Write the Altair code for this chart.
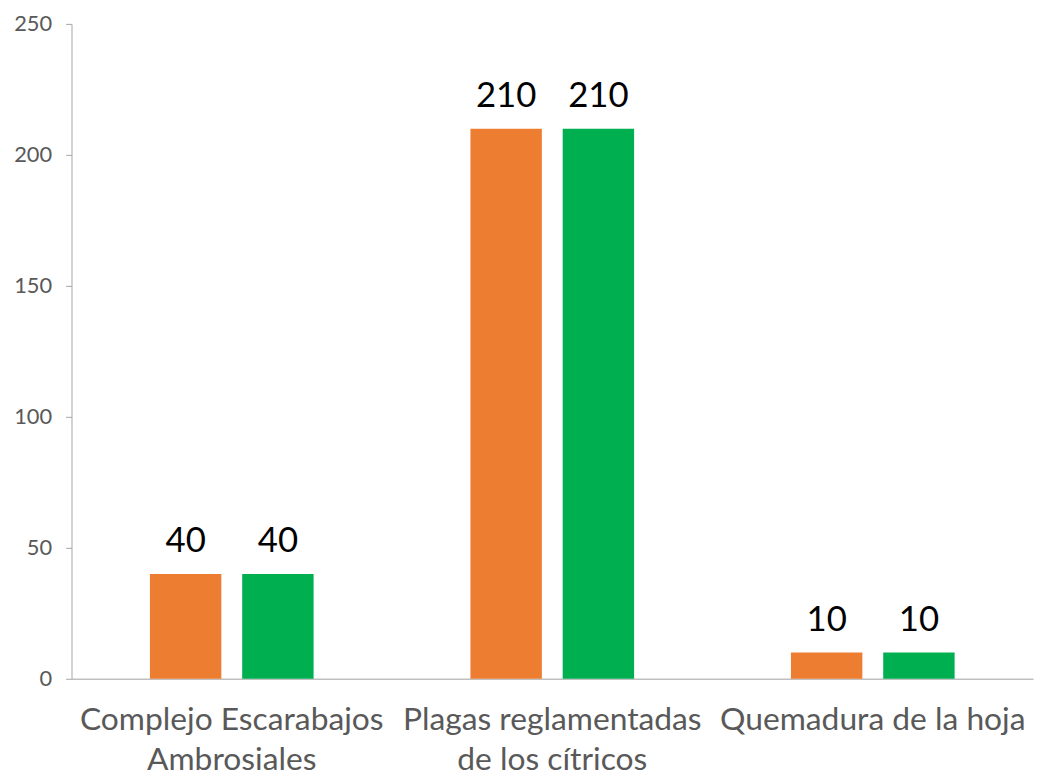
import altair as alt
import pandas as pd

categories = ["Complejo Escarabajos|Ambrosiales", "Plagas reglamentadas|de los cítricos", "Quemadura de la hoja"]
series_names = ["Serie 1", "Serie 2"]
serie1 = [40, 210, 10]
serie2 = [40, 210, 10]
colors = ["#ED7D31", "#00B050"]

rows = []
for c, a, b in zip(categories, serie1, serie2):
    rows.append({"cat": c, "serie": series_names[0], "val": a})
    rows.append({"cat": c, "serie": series_names[1], "val": b})
df = pd.DataFrame(rows)

x = alt.X("cat:N", sort=categories, title=None,
          scale=alt.Scale(paddingInner=0, paddingOuter=0),
          axis=alt.Axis(labelExpr="split(datum.label, '|')", labelAngle=0,
                        labelFontSize=32, labelColor="#595959", labelFont="Lato",
                        labelPadding=26, labelLineHeight=40, ticks=False, labelLimit=0,
                        labelOverlap=False,
                        domainColor="#BFBFBF", domainWidth=1.5, labelBaseline="top"))
xo = alt.XOffset("serie:N", sort=series_names,
                 scale=alt.Scale(paddingInner=0.226, paddingOuter=0.85))
y = alt.Y("val:Q", title=None,
          scale=alt.Scale(domain=[0, 250]),
          axis=alt.Axis(values=[0, 50, 100, 150, 200, 250], grid=False,
                        labelFontSize=22, labelColor="#595959", labelFont="Lato",
                        tickColor="#A6A6A6", tickSize=6, domainColor="#A6A6A6",
                        labelPadding=14))
color = alt.Color("serie:N", sort=series_names,
                  scale=alt.Scale(domain=series_names, range=colors), legend=None)

base = alt.Chart(df).encode(x=x, xOffset=xo, y=y)
bars = base.mark_bar().encode(color=color)
text = base.mark_text(baseline="bottom", dy=-15, fontSize=35, font="Lato", color="#000000").encode(
    text=alt.Text("val:Q"))

chart = (bars + text).properties(width=969, height=660, padding={"left": 5, "top": 2, "right": 5, "bottom": 5}).configure_view(stroke=None)
chart.save("out.html", embed_options={"renderer": "svg", "actions": False})
